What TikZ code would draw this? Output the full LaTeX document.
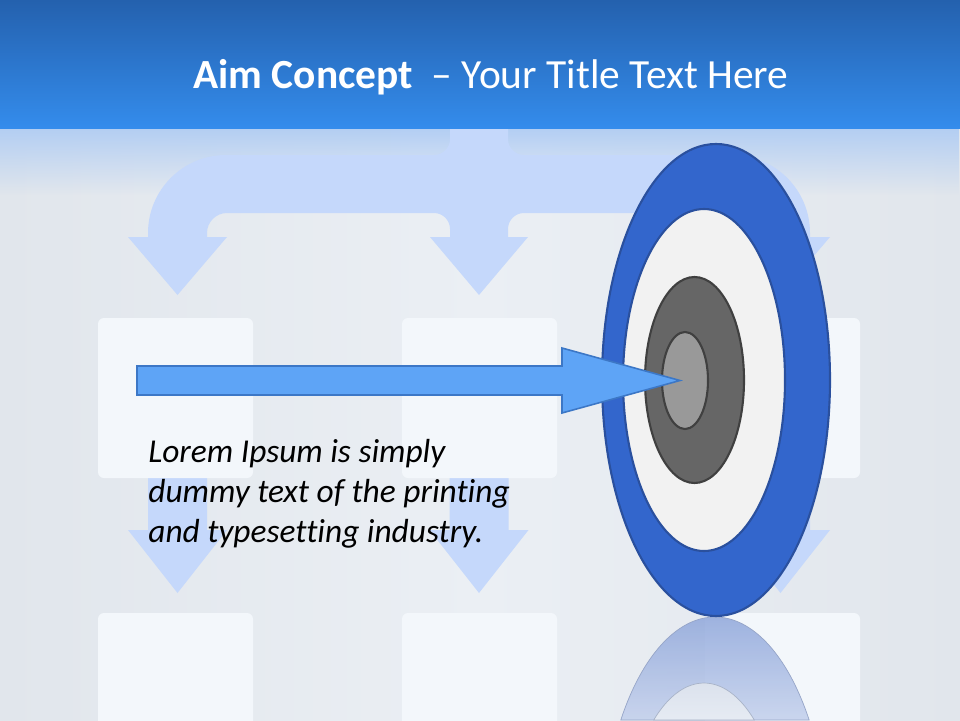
\documentclass[tikz,border=0pt]{standalone}
\usepackage{fontspec}
\setmainfont{Carlito}[Ligatures=NoCommon]
\usetikzlibrary{positioning,fadings}
\definecolor{barTop}{HTML}{2461AE}
\definecolor{barBot}{HTML}{348CEC}
\definecolor{bgMid}{HTML}{EBEFF4}
\definecolor{bgEdge}{HTML}{E1E6EC}
\definecolor{fadeTop}{HTML}{B3CEF3}
\definecolor{ghost}{HTML}{C5D8FB}
\definecolor{ghostBox}{HTML}{F3F7FB}
\definecolor{ringBlue}{HTML}{3366CC}
\definecolor{ringLine}{HTML}{2A509E}
\definecolor{ringWhite}{HTML}{F2F2F2}
\definecolor{ringDark}{HTML}{666666}
\definecolor{ringGray}{HTML}{999999}
\definecolor{ringEdge}{HTML}{404040}
\definecolor{shaftBlue}{HTML}{5EA4F6}
\definecolor{shaftLine}{HTML}{3C77C6}
\tikzfading[name=barfade, top color=transparent!0, bottom color=transparent!100]
\tikzset{
  ghostbox/.style={fill=ghostBox, rounded corners=0.12cm},
  ring/.style={line width=1.2pt},
}

\begin{document}
\begin{tikzpicture}[x=0.02cm,y=-0.02cm]
\useasboundingbox (0,0) rectangle (960,720);
\clip (0,0) rectangle (960,720);
\shade[left color=bgEdge, right color=bgEdge, middle color=bgMid] (0,0) rectangle (960,720);
\fill[fadeTop, path fading=barfade] (0,128) rectangle (960,195);
\fill[ghost] (450,120) -- (450,139) .. controls (450,147.8) and (442.8,155) .. (434,155)
  -- (226,155) .. controls (182.9,155) and (148,189.9) .. (148,233) -- (148,237)
  -- (128,237) -- (177.5,295) -- (227,237) -- (207,237) -- (207,233)
  .. controls (207,222) and (216,213) .. (227,213) -- (434,213)
  .. controls (442.8,213) and (450,220.2) .. (450,229) -- (450,237)
  -- (430,237) -- (479,295) -- (528,237) -- (508,237) -- (508,229)
  .. controls (508,220.2) and (515.2,213) .. (524,213) -- (731,213)
  .. controls (742,213) and (751,222) .. (751,233) -- (751,237)
  -- (731,237) -- (780.5,295) -- (830,237) -- (810,237) -- (810,233)
  .. controls (810,189.9) and (775.1,155) .. (732,155) -- (524,155)
  .. controls (515.2,155) and (508,147.8) .. (508,139) -- (508,120) -- cycle;
\foreach \cx in {177.5,479,780.5}
  \fill[ghost] (\cx-29.5,470) -- (\cx+29.5,470) -- (\cx+29.5,530) -- (\cx+49.5,530)
    -- (\cx,593) -- (\cx-49.5,530) -- (\cx-29.5,530) -- cycle;
\foreach \bx in {98,402,705} {
  \fill[ghostbox] (\bx,318) rectangle ++(155,160);
  \fill[ghostbox] (\bx,613) rectangle ++(155,140);
}
\shade[top color=barTop, bottom color=barBot] (0,0) rectangle (960,128);
\node[anchor=base, text=white, font=\fontsize{23.6}{28}\selectfont, inner sep=0] (title) at (491,88)
  {\textbf{Aim Concept}\ \ – Your Title Text Here};

\shade[top color={rgb,255:red,141;green,165;blue,218}, bottom color={rgb,255:red,195;green,208;blue,236},
  draw={rgb,255:red,150;green,165;blue,200}, fill opacity=0.85]
  (620.8,720) arc[start angle=214.3, end angle=325.7, x radius=114, y radius=236] -- cycle;
\shade[top color={rgb,255:red,220;green,226;blue,236}, bottom color={rgb,255:red,234;green,238;blue,244},
  draw={rgb,255:red,168;green,179;blue,200}, fill opacity=0.9]
  (653.7,720) arc[start angle=231.6, end angle=308.4, x radius=81, y radius=171] -- cycle;

\filldraw[fill=ringBlue, draw=ringLine, ring] (716,380) ellipse[x radius=114, y radius=236];
\filldraw[fill=ringWhite, draw=ringLine, ring] (704,380) ellipse[x radius=81, y radius=171];
\filldraw[fill=ringDark, draw=ringEdge, ring] (694.5,380) ellipse[x radius=49.5, y radius=103];
\filldraw[fill=ringGray, draw=ringEdge, ring] (685,380.5) ellipse[x radius=23, y radius=48.5];

\coordinate (bull) at (680,380.5);
\filldraw[fill=shaftBlue, draw=shaftLine, line width=0.9pt] (137,366) -- (562,366) -- (562,348)
  -- (bull) -- (562,413) -- (562,395) -- (137,395) -- cycle;

\node[anchor=base west, align=left, inner sep=0, font=\itshape\fontsize{19}{22.7}\selectfont] (lorem) at (148,542)
  {Lorem Ipsum is simply\\dummy text of the printing\\and typesetting industry.};
\end{tikzpicture}
\end{document}
